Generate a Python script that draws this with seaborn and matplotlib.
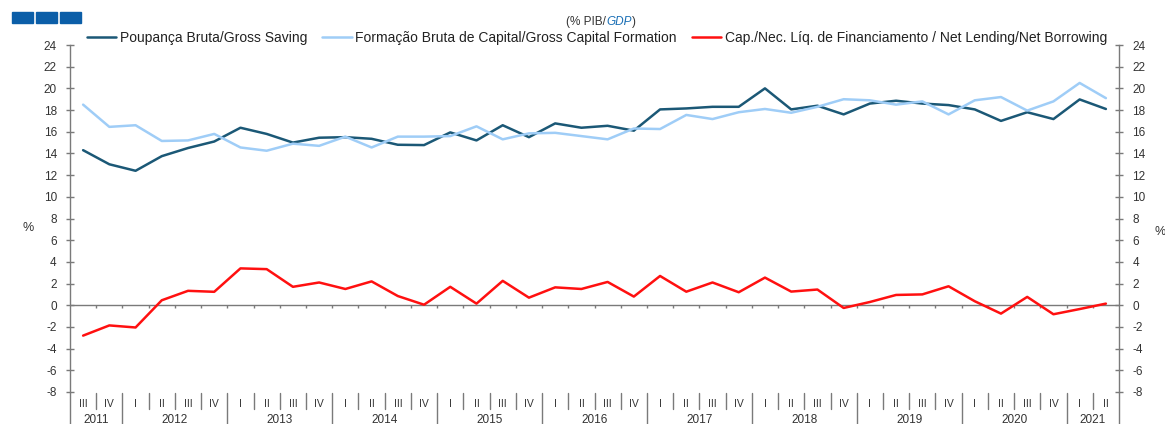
import numpy as np
import pandas as pd
import matplotlib
matplotlib.use("Agg")
import matplotlib.pyplot as plt
import matplotlib.transforms as mtransforms
from matplotlib.patches import Rectangle
import seaborn as sns

# Quarter / year labels (2011 Q3 .. 2021 Q2)
quarter_labels = (["III", "IV"] + ["I", "II", "III", "IV"] * 9 + ["I", "II"])
year_labels = [2011] * 2 + [y for y in range(2012, 2021) for _ in range(4)] + [2021] * 2

# % of GDP
gross_saving = [14.3, 13.0, 12.4, 13.75, 14.5, 15.1, 16.37, 15.8, 15.0, 15.45,
                15.5, 15.35, 14.8, 14.77, 15.94, 15.2, 16.6, 15.5, 16.77, 16.37,
                16.55, 16.1, 18.06, 18.15, 18.3, 18.3, 20.0, 18.06, 18.4, 17.6,
                18.6, 18.86, 18.6, 18.46, 18.06, 17.0, 17.8, 17.17, 18.98, 18.1]
capital_formation = [18.5, 16.45, 16.6, 15.15, 15.2, 15.8, 14.55, 14.25, 14.9, 14.7,
                     15.55, 14.55, 15.55, 15.55, 15.6, 16.5, 15.3, 15.85, 15.9, 15.6,
                     15.3, 16.3, 16.25, 17.55, 17.17, 17.8, 18.1, 17.75, 18.3, 19.0,
                     18.9, 18.5, 18.8, 17.6, 18.9, 19.2, 17.95, 18.8, 20.5, 19.1]
net_lending = [-2.8, -1.86, -2.05, 0.46, 1.33, 1.24, 3.4, 3.33, 1.7, 2.1,
               1.5, 2.2, 0.85, 0.05, 1.7, 0.15, 2.25, 0.7, 1.65, 1.5,
               2.15, 0.8, 2.7, 1.25, 2.1, 1.2, 2.55, 1.26, 1.45, -0.25,
               0.3, 0.95, 1.0, 1.75, 0.37, -0.77, 0.77, -0.83, -0.35, 0.15]

series_names = ["Poupança Bruta/Gross Saving",
                "Formação Bruta de Capital/Gross Capital Formation",
                "Cap./Nec. Líq. de Financiamento / Net Lending/Net Borrowing"]
colors = ["#1b5876", "#9fcdf7", "#ff1010"]

W, H = 1165, 424
AXIS_COLOR = "#7a7a7a"
TEXT_COLOR = "#333333"

sns.set_style("white")
plt.rcParams["font.family"] = ["Liberation Sans", "DejaVu Sans"]
plt.rcParams["axes.unicode_minus"] = False

df = pd.DataFrame({
    "pos": np.arange(len(quarter_labels)),
    series_names[0]: gross_saving,
    series_names[1]: capital_formation,
    series_names[2]: net_lending,
})
long_df = df.melt(id_vars="pos", var_name="series", value_name="value")

fig = plt.figure(figsize=(W / 100, H / 100), dpi=100)
ax = fig.add_axes([70 / W, 1 - 392 / H, (1119 - 70) / W, 347 / H])

sns.lineplot(data=long_df, x="pos", y="value", hue="series",
             hue_order=series_names, palette=colors, linewidth=1.8,
             sort=False, ax=ax)

n = len(quarter_labels)
ax.set_xlim(-0.5, n - 0.5)
ax.set_ylim(-8, 24)
ax.set_yticks(range(-8, 25, 2))
ax.set_xticks([])
ax.set_xlabel("")
ax.set_ylabel("")

ax2 = ax.twinx()
ax2.set_ylim(-8, 24)
ax2.set_yticks(range(-8, 25, 2))

for a in (ax, ax2):
    for s in ("top", "bottom"):
        a.spines[s].set_visible(False)
    for s in ("left", "right"):
        a.spines[s].set_color(AXIS_COLOR)
        a.spines[s].set_linewidth(1)
    a.tick_params(axis="y", direction="inout", length=6, width=1,
                  color=AXIS_COLOR, labelsize=8.5, labelcolor=TEXT_COLOR, pad=6.5)
ax.spines["right"].set_visible(False)
ax2.spines["left"].set_visible(False)

# zero line with small ticks at quarter boundaries
ax.axhline(0, color=AXIS_COLOR, lw=1, zorder=1)
bounds = np.arange(n - 1) + 0.5
ax.vlines(bounds, -0.25, 0, color=AXIS_COLOR, lw=1, zorder=1)

# category axis below the plot
trans = mtransforms.blended_transform_factory(ax.transData, ax.transAxes)
for i, q in enumerate(quarter_labels):
    ax.text(i, -0.035, q, transform=trans, ha="center", va="center",
            fontsize=7.5, color=TEXT_COLOR)
for b in bounds:
    i = int(b + 0.5)
    is_year = year_labels[i] != year_labels[i - 1]
    ax.plot([b, b], [-0.004, -0.095 if is_year else -0.05], transform=trans,
            color=AXIS_COLOR, lw=1, clip_on=False)
for yr in sorted(set(year_labels)):
    idx = [i for i, y in enumerate(year_labels) if y == yr]
    ax.text(np.mean(idx), -0.081, str(yr), transform=trans, ha="center",
            va="center", fontsize=8.5, color=TEXT_COLOR)
for xa in (0, 1):
    ax.plot([xa, xa], [0, -0.095], transform=ax.transAxes, color=AXIS_COLOR,
            lw=1, clip_on=False)

# legend across the top
handles, labels = ax.get_legend_handles_labels()
ax.get_legend().remove()
leg = fig.legend(handles, labels, loc="center", bbox_to_anchor=(597 / W, 1 - 38 / H),
                 ncol=3, frameon=False, fontsize=10, handlelength=2.1,
                 handletextpad=0.25, columnspacing=1.1)
for t in leg.get_texts():
    t.set_color("#222222")
for l in leg.get_lines():
    l.set_linewidth(1.8)

# "%" labels on both sides
fig.text(28 / W, 1 - 228 / H, "%", ha="center", va="center", fontsize=9, color=TEXT_COLOR)
fig.text(1160 / W, 1 - 232 / H, "%", ha="center", va="center", fontsize=9, color=TEXT_COLOR)

# title "(% PIB/GDP)" with GDP italic blue
renderer = fig.canvas.get_renderer()
parts = [("(% PIB/", "normal", "#333333"), ("GDP", "italic", "#1a6fb5"), (")", "normal", "#333333")]
texts = [fig.text(0, 1 - 22 / H, s, fontsize=8.5, style=st, color=c, va="center")
         for s, st, c in parts]
widths = [t.get_window_extent(renderer).width for t in texts]
x = 601 - sum(widths) / 2
for t, w in zip(texts, widths):
    t.set_x(x / W)
    x += w

# three blue squares in the corner
for x0 in (12, 36, 60):
    fig.patches.append(Rectangle((x0 / W, 1 - 23 / H), 21 / W, 11 / H,
                                 transform=fig.transFigure, color="#0b5ea8"))

fig.savefig("out.png", dpi=100)
